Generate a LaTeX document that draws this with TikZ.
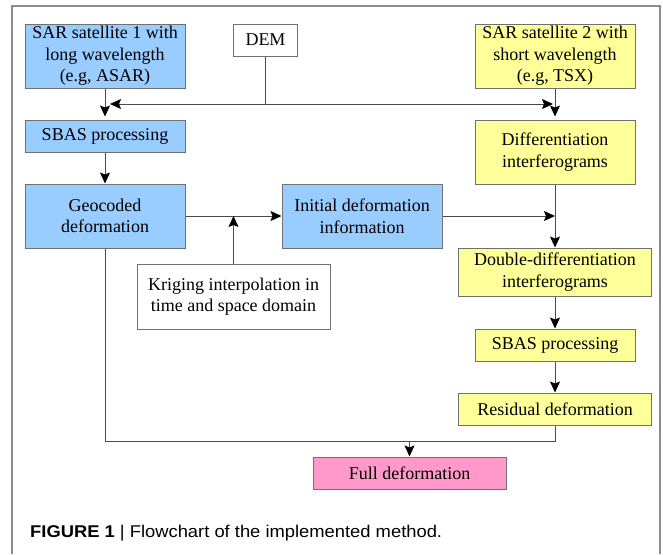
\documentclass[tikz,border=0pt]{standalone}
\usepackage{fontspec}
\usepackage{graphicx}
\setmainfont{Liberation Serif}
\newfontfamily\capfont{Liberation Sans}
\usetikzlibrary{arrows.meta}
\definecolor{boxblue}{HTML}{99CCFF}
\definecolor{boxyellow}{HTML}{FFFF99}
\definecolor{boxpink}{HTML}{FF99CC}
\definecolor{edgegray}{HTML}{707070}
\definecolor{linegray}{HTML}{4A4A4A}
\definecolor{framegray}{HTML}{8C8C8C}
\tikzset{
  x=1pt, y=-1pt,
  box/.style={draw=edgegray, line width=1pt, inner sep=0pt, align=center,
    font=\rmfamily\fontsize{18}{21.5}\selectfont},
  bluebox/.style={box, fill=boxblue},
  yellowbox/.style={box, fill=boxyellow},
  pinkbox/.style={box, fill=boxpink},
  whitebox/.style={box, fill=white},
  conn/.style={draw=linegray, line width=0.9pt},
  arr/.style={conn, -{Stealth[length=11pt,width=10pt,inset=2pt,color=black]}},
}
\begin{document}
\begin{tikzpicture}
\useasboundingbox (0,0) rectangle (663,554);
\fill[white] (0,0) rectangle (663,554);
% frame
\draw[framegray, line width=1.4pt] (12,554) -- (12,6) -- (660,6) -- (660,554);

% left column
\node[bluebox, minimum width=160pt, minimum height=64pt] (sar1) at (105,56) {SAR satellite 1 with\\long wavelength\\(e.g, ASAR)};
\node[whitebox, minimum width=64pt, minimum height=32pt] (dem) at (265.5,40) {DEM};
\node[bluebox, minimum width=160pt, minimum height=32pt] (sbas1) at (105,136) {SBAS processing};
\node[bluebox, minimum width=160pt, minimum height=64pt] (geo) at (105,216) {Geocoded\\deformation};
\node[bluebox, minimum width=160pt, minimum height=64pt] (init) at (362,216) {Initial deformation\\information};
\node[whitebox, minimum width=193pt, minimum height=65pt] (krig) at (233.5,296.5) {Kriging interpolation in\\time and space domain};

% right column
\node[yellowbox, minimum width=160pt, minimum height=64pt] (sar2) at (555,56) {SAR satellite 2 with\\short wavelength\\(e.g, TSX)};
\node[yellowbox, minimum width=160pt, minimum height=64pt] (diff) at (555,152) {Differentiation\\interferograms};
\node[yellowbox, minimum width=193pt, minimum height=48pt] (dd) at (555,272) {Double-differentiation\\interferograms};
\node[yellowbox, minimum width=160pt, minimum height=32pt] (sbas2) at (555,345) {SBAS processing};
\node[yellowbox, minimum width=193pt, minimum height=32pt] (res) at (555,409) {Residual deformation};
\node[pinkbox, minimum width=193pt, minimum height=32pt] (full) at (409.5,473) {Full deformation};

% junction coordinates
\coordinate (demj) at (dem.south |- 0,104);
\coordinate (bot) at (res.south |- 0,441);

% connectors
\draw[conn] (dem.south) -- (demj);
\draw[arr, shorten >=5pt] (demj) -- (sar1.south |- demj);
\draw[arr, shorten >=2pt] (demj) -- (sar2.south |- demj);
\draw[arr, shorten >=3pt] (sar1.south) -- (sbas1.north);
\draw[arr] (sbas1.south) -- (geo.north);
\draw[arr] (geo.east) -- (init.west);
\draw[arr] (krig.north) -- (krig.north |- geo.east);
\draw[arr] (init.east) -- (sar2.south |- init.east);
\draw[arr, shorten >=3pt] (sar2.south) -- (diff.north);
\draw[arr] (diff.south) -- (dd.north);
\draw[arr] (dd.south) -- (sbas2.north);
\draw[arr] (sbas2.south) -- (res.north);
\draw[conn] (res.south) -- (bot) -- (geo.south |- bot) -- (geo.south);
\draw[arr] (full.north |- bot) -- (full.north);

% caption
\node[anchor=west, inner sep=0pt, font=\capfont\fontsize{17}{19}\selectfont] (cap) at (30,533)
  {\scalebox{1.08}[1]{\textbf{FIGURE 1} | Flowchart of the implemented method.}};
\end{tikzpicture}
\end{document}
